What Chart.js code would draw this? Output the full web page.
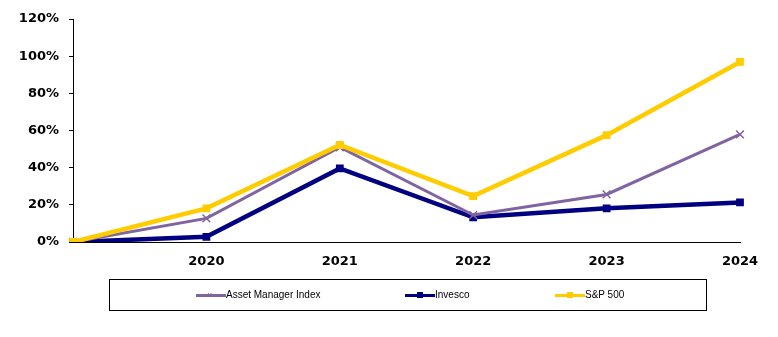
<!DOCTYPE html>
<html>
<head>
<meta charset="utf-8">
<script src="https://cdn.jsdelivr.net/npm/chart.js@4.4.1/dist/chart.umd.min.js"></script>
<style>
    html, body { margin: 0; padding: 0; background: #fff; }
    #wrap { position: relative; width: 778px; height: 337px; }
    #returnsChart { position: absolute; left: 0; top: 0; }
    #legendBox {
        position: absolute; left: 109px; top: 279px; width: 596px; height: 30px;
        border: 1px solid #000; font: 10px "Liberation Sans", Arial, sans-serif; color: #000;
    }
    .legend-item { position: absolute; top: 9px; height: 12px; line-height: 12px; white-space: nowrap; }
    .legend-item .sample { display: inline-block; position: relative; width: 30px; height: 12px; vertical-align: top; }
    .legend-item .sample .line { position: absolute; left: 0; right: 0; top: 5px; height: 3px; }
    .legend-item .sample .mark { position: absolute; left: 12px; top: 3px; width: 6px; height: 6px; }
    .legend-item .sample .cross { position: absolute; left: 11px; top: 0px; font: 9px Arial, sans-serif; line-height: 12px; }
</style>
</head>
<body>
<div id="wrap">
    <canvas id="returnsChart" width="778" height="337"></canvas>
    <div id="legendBox"></div>
</div>
<script>
// Kümülatif getiri (%), 2019 baz yılı
const years = ['', '2020', '2021', '2022', '2023', '2024'];
const assetManagerIndex = [0, 12.7, 51.0, 14.5, 25.6, 57.9];
const invesco = [0, 2.8, 39.6, 13.3, 18.1, 21.3];
const sp500 = [0, 18.1, 52.2, 24.7, 57.5, 96.9];
const yTicks = [0, 20, 40, 60, 80, 100, 120];

const seriesNames = ['Asset Manager Index', 'Invesco', 'S&P 500'];
const seriesColors = ['#8064A2', '#000080', '#FFCC00'];
const legendLeft = [86, 295, 445];

const tickFont = { family: '"DejaVu Sans", Verdana, sans-serif', size: 13, weight: 'bold' };

const ctx = document.getElementById('returnsChart').getContext('2d');
new Chart(ctx, {
    type: 'line',
    data: {
        labels: years,
        datasets: [
            {
                label: seriesNames[0],
                data: assetManagerIndex,
                borderColor: seriesColors[0],
                backgroundColor: seriesColors[0],
                borderWidth: 3,
                pointStyle: 'crossRot',
                pointRadius: 5.5,
                pointBorderWidth: 1.5,
                order: 1
            },
            {
                label: seriesNames[1],
                data: invesco,
                borderColor: seriesColors[1],
                backgroundColor: seriesColors[1],
                borderWidth: 4.5,
                pointStyle: 'rect',
                pointRadius: 5.5,
                pointBorderWidth: 0,
                order: 2
            },
            {
                label: seriesNames[2],
                data: sp500,
                borderColor: seriesColors[2],
                backgroundColor: seriesColors[2],
                borderWidth: 4.5,
                pointStyle: 'rect',
                pointRadius: 5.5,
                pointBorderWidth: 0,
                order: 0
            }
        ]
    },
    options: {
        responsive: false,
        animation: false,
        layout: { padding: { top: 19, right: 38, bottom: 0, left: 0 } },
        plugins: {
            legend: { display: false },
            tooltip: { enabled: false }
        },
        elements: { line: { tension: 0 } },
        scales: {
            x: {
                offset: false,
                grid: { display: false },
                border: { display: true, color: '#000', width: 1 },
                ticks: { color: '#000', font: tickFont, padding: 4, maxRotation: 0, autoSkip: false },
                afterFit: scale => { scale.height = 95; }
            },
            y: {
                min: 0,
                max: 120,
                afterBuildTicks: scale => { scale.ticks = yTicks.map(v => ({ value: v })); },
                grid: { drawOnChartArea: false, drawTicks: true, tickLength: 4, color: '#000' },
                border: { display: true, color: '#000', width: 1 },
                ticks: { color: '#000', font: tickFont, padding: 10, callback: v => v + '%' },
                afterFit: scale => { scale.width = 73; }
            }
        }
    }
});

// Alt kısımdaki çerçeveli açıklama kutusu
const legendBox = document.getElementById('legendBox');
seriesNames.forEach((name, i) => {
    const item = document.createElement('div');
    item.className = 'legend-item';
    item.style.left = legendLeft[i] + 'px';
    const marker = i === 0
        ? `<span class="cross" style="color:${seriesColors[i]}">×</span>`
        : `<span class="mark" style="background:${seriesColors[i]}"></span>`;
    item.innerHTML = `<span class="sample"><span class="line" style="background:${seriesColors[i]}"></span>${marker}</span>${name}`;
    legendBox.appendChild(item);
});
</script>
</body>
</html>
